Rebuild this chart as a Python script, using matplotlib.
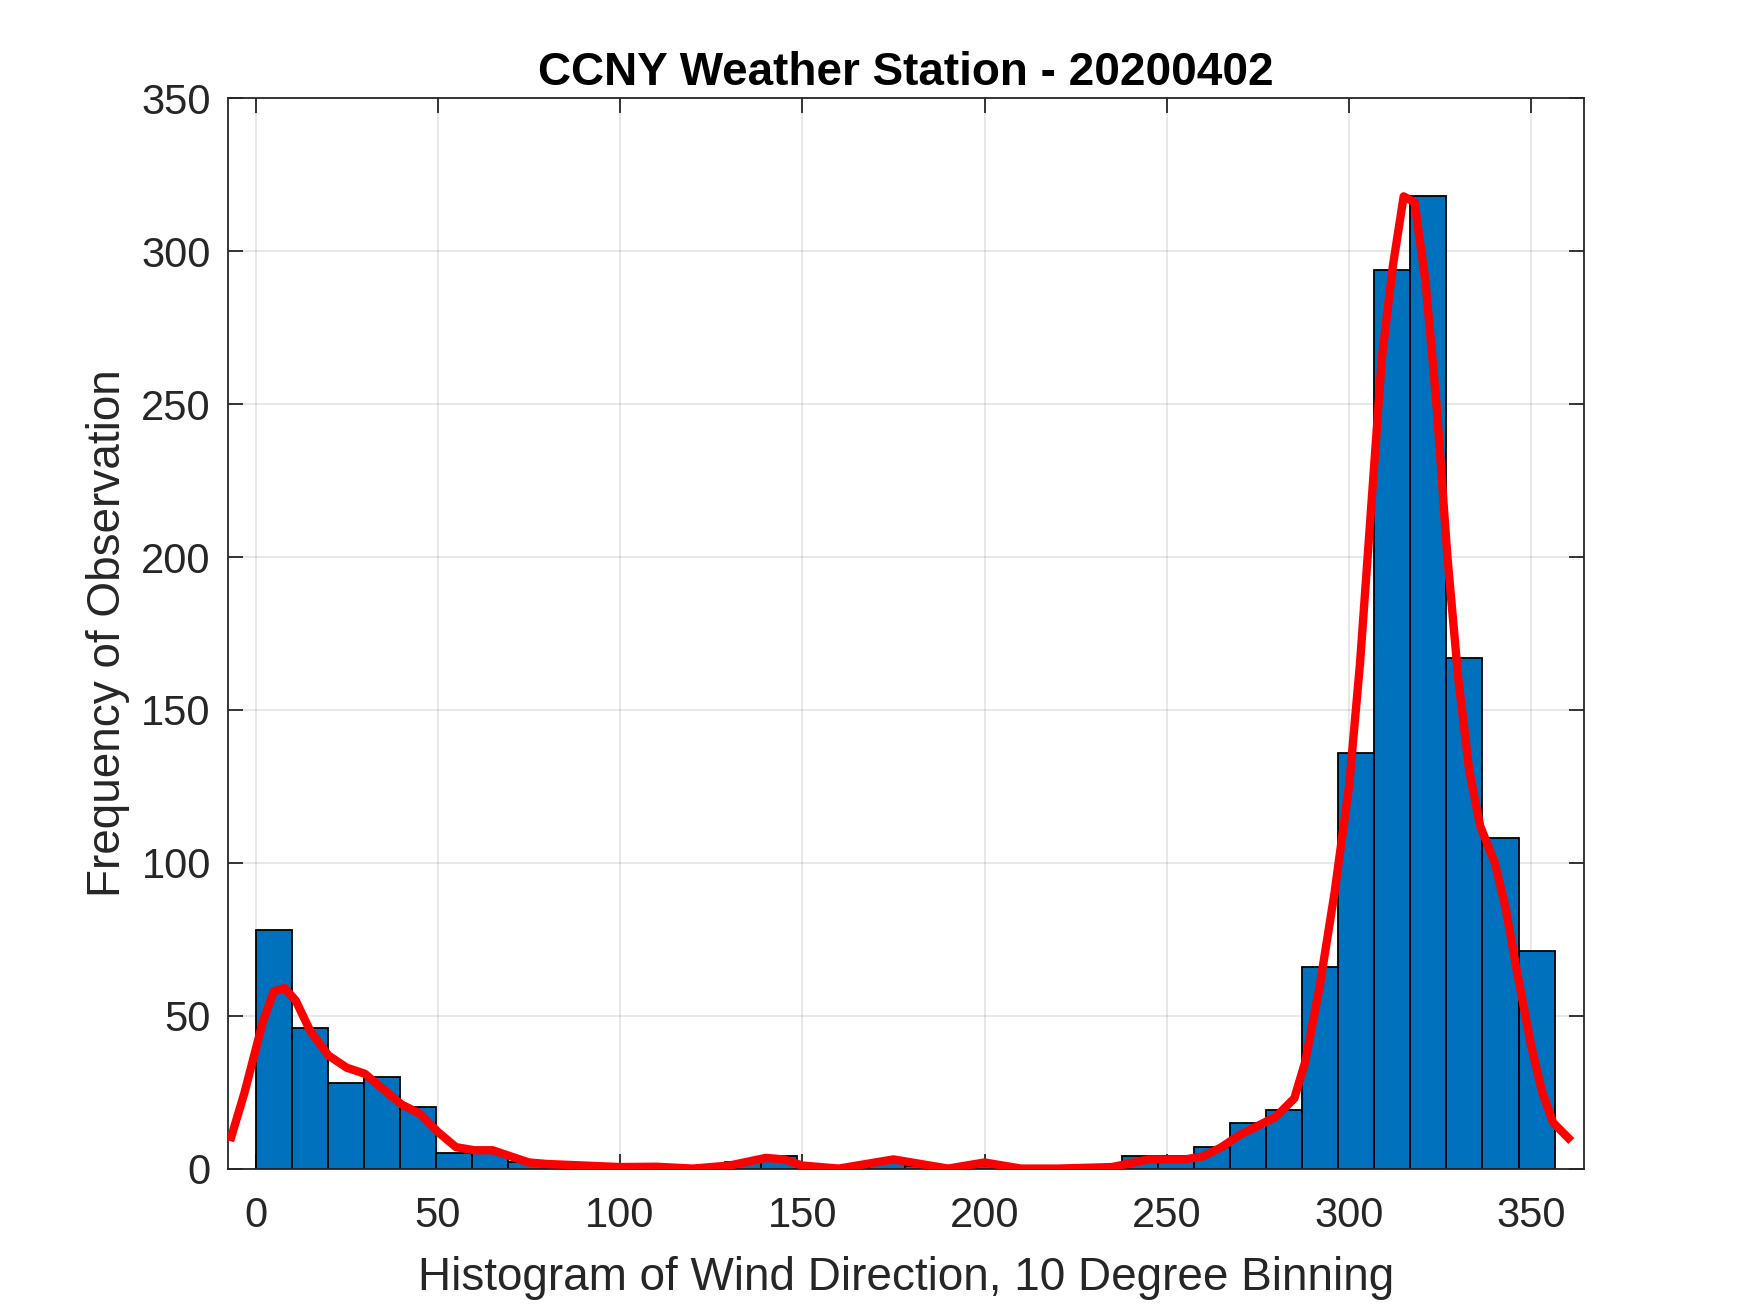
import matplotlib
matplotlib.use("Agg")
import matplotlib.pyplot as plt
import numpy as np

plt.rcParams['font.family'] = ['Liberation Sans', 'DejaVu Sans']

# histogram counts, 36 bins over 0..356.4 degrees
counts = [78, 46, 28, 30, 20, 5, 5, 2, 1, 1, 0, 1, 0, 2, 4, 0, 1, 2,
          1, 1, 1, 0, 0, 0, 4, 4, 7, 15, 19, 66, 136, 294, 318, 167, 108, 71]
bin_width = 9.9

# smoothed curve
curve_x = [-7, -3, 2, 5, 8, 11, 15, 20, 25, 30, 35, 40, 45, 50, 55, 60, 65, 70,
           75, 80, 90, 100, 110, 120, 130, 140, 145, 150, 160, 170, 175, 180,
           190, 200, 210, 220, 235, 245, 255, 260, 265, 270, 275, 280, 285, 288,
           292, 296, 300, 303, 306, 309, 312, 315, 318, 321, 324, 327, 330, 333,
           336, 340, 343, 346, 350, 353, 356, 361]
curve_y = [9, 25, 48, 58, 59, 55, 45, 37, 33, 31, 26, 21, 18, 12, 7, 6, 6, 4,
           2, 1.5, 1, 0.5, 0.6, 0, 1, 3.5, 3, 1, 0, 2, 3, 2,
           0, 2, 0, 0, 0.5, 3, 3, 4, 7, 11, 14, 17, 23, 35,
           60, 90, 125, 165, 215, 265, 295, 318, 316, 290, 250, 200, 160, 130,
           112, 100, 85, 65, 40, 25, 15, 9]

fig = plt.figure(figsize=(17.5, 13.13), dpi=100)
ax = fig.add_axes([0.13, 0.11, 0.775, 0.815])

lefts = np.arange(len(counts)) * bin_width
ax.bar(lefts, counts, width=bin_width, align='edge', color='#0072BD',
       edgecolor='black', linewidth=1.3, zorder=2)
ax.plot(curve_x, curve_y, color='red', linewidth=6, zorder=3,
        solid_joinstyle='round', solid_capstyle='butt')

ax.set_xlim(-7.7, 364.4)
ax.set_ylim(0, 350)
ax.set_xticks(range(0, 351, 50))
ax.set_yticks(range(0, 351, 50))

ax.grid(True, color='#262626', alpha=0.12, linewidth=1.2, zorder=0)
ax.set_axisbelow(True)
for s in ax.spines.values():
    s.set_color('#262626')
    s.set_linewidth(1.3)
ax.tick_params(direction='in', length=11, width=1.3, top=True, right=True,
               labelsize=30, colors='#262626')
ax.tick_params(axis='x', pad=20)
ax.tick_params(axis='y', pad=12)

ax.set_xlabel('Histogram of Wind Direction, 10 Degree Binning', fontsize=33,
              color='#262626', labelpad=14)
ax.set_ylabel('Frequency of Observation', fontsize=33, color='#262626',
              labelpad=8)
ax.set_title('CCNY Weather Station - 20200402', fontsize=33,
             fontweight='bold', pad=10)

fig.savefig('out.png', dpi=100)
